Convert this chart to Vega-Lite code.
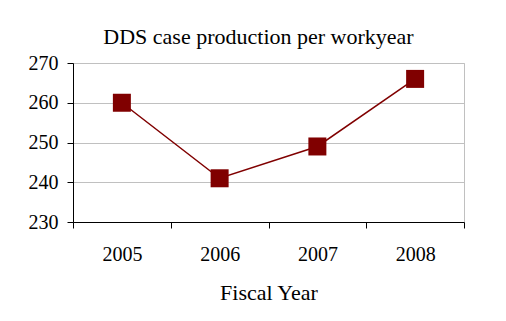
{
  "$schema": "https://vega.github.io/schema/vega-lite/v6.json",
  "autosize": {"type": "none"},
  "width": 391,
  "height": 159,
  "padding": {"left": 73, "top": 63, "right": 42, "bottom": 99},
  "background": "white",
  "title": {
    "text": "DDS case production per workyear",
    "font": "Liberation Serif",
    "fontSize": 22,
    "fontWeight": "normal",
    "color": "#000000",
    "anchor": "middle",
    "dx": -10,
    "offset": 4
  },
  "data": {
    "values": [
      {"year": "2005", "value": 260},
      {"year": "2006", "value": 241},
      {"year": "2007", "value": 249},
      {"year": "2008", "value": 266}
    ]
  },
  "encoding": {
    "x": {
      "field": "year",
      "type": "ordinal",
      "scale": {"paddingInner": 0, "paddingOuter": 0},
      "axis": {
        "title": "Fiscal Year",
        "labelAngle": 0,
        "tickBand": "extent",
        "tickSize": 6,
        "tickColor": "#000000",
        "domainColor": "#000000",
        "labelPadding": 16,
        "titlePadding": 18,
        "labelFont": "Liberation Serif",
        "labelFontSize": 20,
        "titleFont": "Liberation Serif",
        "titleFontSize": 22,
        "titleFontWeight": "normal",
        "labelColor": "#000000",
        "titleColor": "#000000"
      }
    },
    "y": {
      "field": "value",
      "type": "quantitative",
      "scale": {"domain": [230, 270], "nice": false, "zero": false},
      "axis": {
        "title": null,
        "values": [230, 240, 250, 260, 270],
        "tickSize": 6,
        "tickColor": "#000000",
        "domainColor": "#000000",
        "gridColor": "#c0c0c0",
        "labelPadding": 9,
        "labelFont": "Liberation Serif",
        "labelFontSize": 20,
        "labelColor": "#000000"
      }
    }
  },
  "layer": [
    {"mark": {"type": "line", "color": "#800000", "strokeWidth": 1.5}},
    {"mark": {"type": "point", "shape": "square", "filled": true, "size": 324, "color": "#800000", "opacity": 1}}
  ],
  "config": {
    "view": {"stroke": "#c0c0c0"}
  }
}
